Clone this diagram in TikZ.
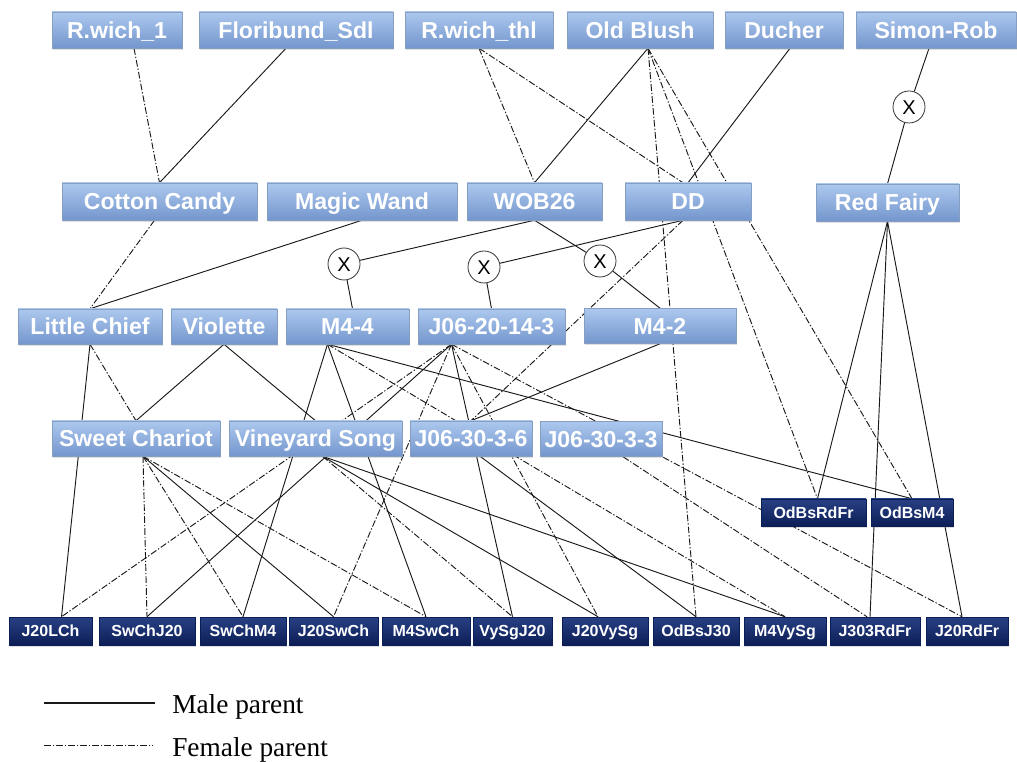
\documentclass[tikz,border=0pt]{standalone}
\usepackage{fontspec}
\setmainfont{Liberation Serif}
\newfontfamily\boxfont{Liberation Sans}
\usetikzlibrary{calc,shadows}
\pgfdeclarelayer{back}
\pgfdeclarelayer{bg}
\pgfsetlayers{back,bg,main}
\definecolor{lbtop}{RGB}{172,200,238}
\definecolor{lbbot}{RGB}{116,150,205}
\definecolor{lbline}{RGB}{135,158,195}
\definecolor{dbtop}{RGB}{40,64,132}
\definecolor{dbbot}{RGB}{12,30,86}
\definecolor{edgec}{RGB}{25,25,25}
\tikzset{
  lbox/.style={rectangle, inner sep=0pt, top color=lbtop, bottom color=lbbot,
    draw=lbline, line width=0.4pt, text=white, text height=12.4pt, text depth=0pt,
    font=\boxfont\bfseries\fontsize{17.3}{18}\selectfont,
    drop shadow={opacity=0.25, shadow xshift=1pt, shadow yshift=-1.2pt}},
  dbox/.style={rectangle, inner sep=0pt, top color=dbtop, bottom color=dbbot,
    draw=dbbot, line width=0.4pt, text=white, minimum height=21pt,
    text height=8.6pt, text depth=0pt,
    font=\boxfont\bfseries\fontsize{12}{13}\selectfont,
    drop shadow={opacity=0.25, shadow xshift=1pt, shadow yshift=-1.2pt}},
  xnode/.style={circle, draw=black!80, fill=white, line width=0.6pt,
    minimum size=24pt, inner sep=0pt, text height=10.7pt, text depth=0pt,
    font=\boxfont\fontsize{15}{15}\selectfont},
  male/.style={draw=edgec, line width=0.7pt},
  female/.style={draw=edgec, line width=0.7pt, dash pattern=on 5pt off 1.5pt on 1pt off 1.5pt},
}
\begin{document}
\begin{tikzpicture}[x=0.75pt, y=-0.75pt]
\begin{pgfonlayer}{back}
\fill[white] (0,0) rectangle (1017,762);
\end{pgfonlayer}
\useasboundingbox (0,0) rectangle (1017,762);
% row 1
\node[lbox, minimum width=97.5pt,  minimum height=27pt] (rw1)  at (117,30)   {R.wich\_1};
\node[lbox, minimum width=145.5pt, minimum height=27pt] (flor) at (296,30)   {Floribund\_Sdl};
\node[lbox, minimum width=111pt,   minimum height=27pt] (rwt)  at (479,30)   {R.wich\_thl};
\node[lbox, minimum width=109.5pt, minimum height=27pt] (ob)   at (640,30)   {Old Blush};
\node[lbox, minimum width=88.5pt,  minimum height=27pt] (duc)  at (784,30)   {Ducher};
\node[lbox, minimum width=120pt,   minimum height=27pt] (sim)  at (936,30)   {Simon-Rob};
% row 2
\node[lbox, minimum width=146.25pt, minimum height=27.75pt] (cc)  at (159.5,201.5) {Cotton Candy};
\node[lbox, minimum width=142.5pt,  minimum height=27.75pt] (mw)  at (362,201.5)   {Magic Wand};
\node[lbox, minimum width=101.25pt, minimum height=27.75pt] (wob) at (534.5,201.5) {WOB26};
\node[lbox, minimum width=94.5pt,   minimum height=27.75pt] (dd)  at (688,201.5)   {DD};
\node[lbox, minimum width=107.25pt, minimum height=27.75pt] (rf)  at (887.5,202.5) {Red Fairy};
% crosses
\node[xnode] (x1) at (344,264) {X};
\node[xnode] (x2) at (484,267) {X};
\node[xnode] (x3) at (600,261) {X};
\node[xnode] (x4) at (909,107) {X};
% row 3
\node[lbox, minimum width=108pt,    minimum height=26.25pt] (lc)  at (90,326.5)    {Little Chief};
\node[lbox, minimum width=79.5pt,   minimum height=26.25pt] (vio) at (224,326.5)   {Violette};
\node[lbox, minimum width=92.25pt,  minimum height=26.25pt] (m44) at (347.5,326.5) {M4-4};
\node[lbox, minimum width=110.25pt, minimum height=26.25pt] (j20) at (491.5,326.5) {J06-20-14-3};
\node[lbox, minimum width=114pt,    minimum height=26.25pt] (m42) at (660,326)     {M4-2};
% row 4
\node[lbox, minimum width=126pt,    minimum height=26.25pt] (sc)   at (136,438.5)   {Sweet Chariot};
\node[lbox, minimum width=129.75pt, minimum height=26.25pt] (vs)   at (315.5,438.5) {Vineyard Song};
\node[lbox, minimum width=91.5pt,   minimum height=26.25pt] (j306) at (471,438.5)   {J06-30-3-6};
\node[lbox, minimum width=91.5pt,   minimum height=26.25pt] (j303) at (601,439)     {J06-30-3-3};
% dark middle
\node[dbox, minimum width=78.75pt, minimum height=20.25pt] (odrf) at (813.5,512.5) {OdBsRdFr};
\node[dbox, minimum width=61.5pt,  minimum height=20.25pt] (odm4) at (912,512.5)   {OdBsM4};
% bottom row
\node[dbox, minimum width=62.25pt] (j20lch)   at (50.5,631)  {J20LCh};
\node[dbox, minimum width=72pt]    (swchj20)  at (147,631)   {SwChJ20};
\node[dbox, minimum width=64.5pt]  (swchm4)   at (243,631)   {SwChM4};
\node[dbox, minimum width=66.75pt] (j20swch)  at (333.5,631) {J20SwCh};
\node[dbox, minimum width=66pt]    (m4swch)   at (426,631)   {M4SwCh};
\node[dbox, minimum width=59.25pt] (vysgj20)  at (512.5,631) {VySgJ20};
\node[dbox, minimum width=64.5pt]  (j20vysg)  at (605,631)   {J20VySg};
\node[dbox, minimum width=64.5pt]  (odbsj30)  at (696,631)   {OdBsJ30};
\node[dbox, minimum width=61.5pt]  (m4vysg)   at (785,631)   {M4VySg};
\node[dbox, minimum width=67.5pt]  (j303rdfr) at (875,631)   {J303RdFr};
\node[dbox, minimum width=61.5pt]  (j20rdfr)  at (967,631)   {J20RdFr};
% attachment points
\coordinate (obB)  at ($(ob.south)+(8,0)$);
\coordinate (m44B) at ($(m44.south)+(-20,0)$);
\coordinate (j20B) at ($(j20.south)+(-40,0)$);
\coordinate (scB)  at ($(sc.south)+(7,0)$);
\coordinate (vsB)  at ($(vs.south)+(7,0)$);
\coordinate (ddB)  at ($(dd.south)+(-5,0)$);
\coordinate (j20lchT)  at ($(j20lch.north)+(11,0)$);
\coordinate (j20vysgT) at ($(j20vysg.north)+(-7,0)$);
\coordinate (j20rdfrT) at ($(j20rdfr.north)+(-5,0)$);
\coordinate (j303rdfrT) at ($(j303rdfr.north)+(-5,0)$);
\coordinate (odrfT) at ($(odrf.north)+(4,0)$);
\begin{pgfonlayer}{bg}
% top generation
\draw[female] ($(rw1.south)+(17,0)$) -- (cc.north);
\draw[male]   ($(flor.south)+(-10,0)$) -- (cc.north);
\draw[female] (rwt.south) -- (wob.north);
\draw[female] (rwt.south) -- ($(dd.north)+(-5,0)$);
\draw[male]   (obB) -- (wob.north);
\draw[female] (obB) -- (odbsj30.north);
\draw[female] (obB) -- (odrfT);
\draw[female] (obB) -- (odm4.north);
\draw[male]   ($(duc.south)+(6,0)$) -- (dd.north);
\draw[male]   ($(sim.south)+(-7,0)$) -- (x4) -- (rf.north);
% second generation
\draw[female] ($(cc.south)+(-5,0)$) -- (lc.north);
\draw[male]   (mw.south) -- (lc.north);
\draw[male]   (wob.south) -- (x1);
\draw[male]   (wob.south) -- (x3);
\draw[male]   (x1) -- ($(m44.north)+(5,0)$);
\draw[male]   (ddB) -- (x2);
\draw[female] (ddB) -- (j306.north);
\draw[male]   (x2) -- (j20.north);
\draw[male]   (x3) -- (m42.north);
\draw[male]   (rf.south) -- (odrfT);
\draw[male]   (rf.south) -- (j303rdfrT);
\draw[male]   (rf.south) -- (j20rdfrT);
% third generation
\draw[female] (lc.south) -- (sc.north);
\draw[male]   (lc.south) -- (j20lchT);
\draw[male]   (vio.south) -- (sc.north);
\draw[male]   (vio.south) -- (vs.north);
\draw[male]   (m44B) -- (swchm4.north);
\draw[male]   (m44B) -- (m4swch.north);
\draw[female] (m44B) -- (m4vysg.north);
\draw[male]   (m44B) -- (odm4.north);
\draw[female] (j20B) -- (j20lchT);
\draw[male]   (j20B) -- (swchj20.north);
\draw[female] (j20B) -- (j20swch.north);
\draw[male]   (j20B) -- (vysgj20.north);
\draw[female] (j20B) -- (j20vysgT);
\draw[female] (j20B) -- (j20rdfrT);
\draw[male]   (m42.south) -- (j306.north);
% fourth generation
\draw[female] (scB) -- (swchj20.north);
\draw[female] (scB) -- (swchm4.north);
\draw[male]   (scB) -- (j20swch.north);
\draw[female] (scB) -- (m4swch.north);
\draw[female] (vsB) -- (vysgj20.north);
\draw[male]   (vsB) -- (j20vysgT);
\draw[male]   (vsB) -- (m4vysg.north);
\draw[male]   ($(j306.south)+(9,0)$) -- (odbsj30.north);
\draw[female] ($(j303.south)+(22,0)$) -- ($(j303rdfr.north)+(-8,0)$);
\end{pgfonlayer}
% legend
\coordinate (lgm1) at (44,703);
\coordinate (lgm2) at (155,703);
\coordinate (lgf1) at (44,745);
\coordinate (lgf2) at (153,745);
\draw[male, line width=1pt] (lgm1) -- (lgm2);
\draw[female] (lgf1) -- (lgf2);
\node[anchor=base west, inner sep=0pt, font=\fontsize{20.5}{22}\selectfont] (lgmt) at (172,713) {Male parent};
\node[anchor=base west, inner sep=0pt, font=\fontsize{20.5}{22}\selectfont] (lgft) at (172,756) {Female parent};
\end{tikzpicture}
\end{document}
